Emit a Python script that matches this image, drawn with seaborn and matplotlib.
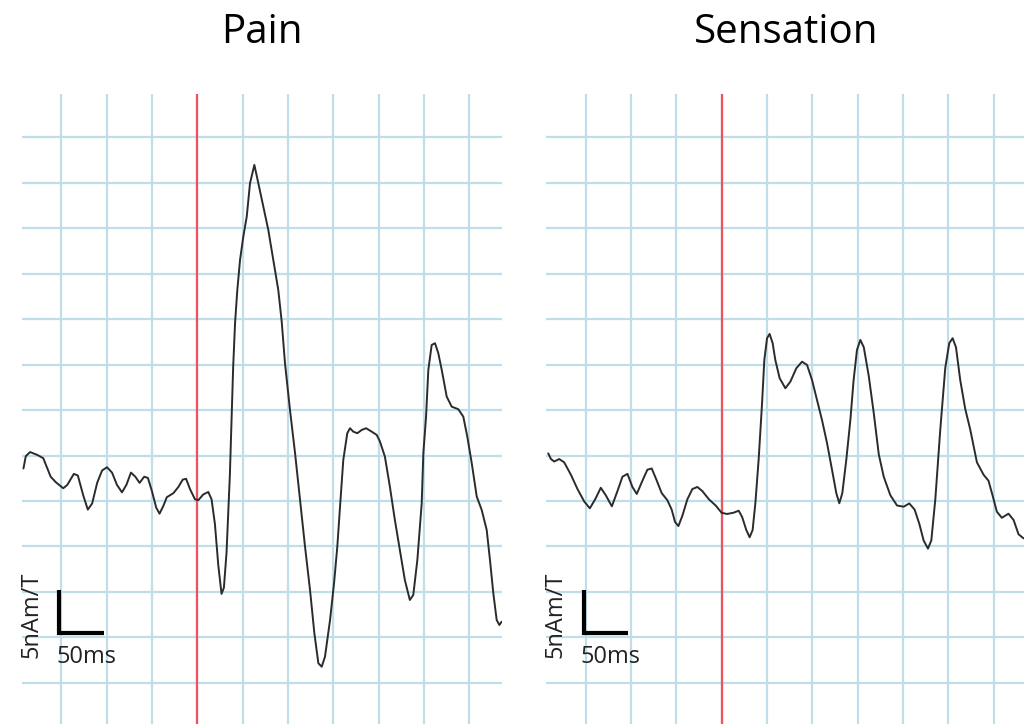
import numpy as np
import pandas as pd
import matplotlib
matplotlib.use("Agg")
import matplotlib.pyplot as plt
import seaborn as sns

# Panel titles
panel_titles = ["Pain", "Sensation"]

# Source waveform, Pain condition (time in ms, amplitude in nAm/T)
pain_t = [-191.8, -189.2, -184.5, -176.4, -169.9, -165.4, -161.8, -156.3, -147.9, -143.5,
          -136.2, -131.8, -125.9, -120.8, -116.0, -110.5, -105.1, -99.6, -94.1, -88.6,
          -83.1, -78.3, -73.2, -68.4, -63.7, -58.6, -54.5, -50.1, -45.4, -41.7,
          -37.3, -33.7, -26.4, -20.9, -16.1, -12.4, -8.1, -2.6, 1.1, 6.6,
          12.1, 15.7, 19.4, 23.1, 26.7, 29.3, 32.2, 35.9, 39.5, 41.6,
          44.1, 47.1, 50.7, 54.5, 58.1, 62.9, 67.3, 72.8, 78.3, 83.8,
          89.3, 93.1, 96.7, 102.2, 107.8, 113.3, 118.8, 124.3, 129.1, 133.5,
          137.2, 140.8, 146.4, 150.8, 154.4, 157.4, 161.0, 165.4, 168.4, 172.1,
          176.5, 181.3, 186.1, 192.4, 197.9, 201.5, 206.9, 212.4, 217.9, 223.4,
          228.9, 234.4, 238.2, 242.7, 247.5, 249.3, 252.3, 254.8, 258.5, 262.2,
          265.8, 269.6, 275.1, 280.6, 287.9, 293.4, 297.8, 302.7, 308.2, 313.7,
          319.2, 322.8, 326.5, 330.2, 333.1, 335.7]
pain_v = [3.57, 4.93, 5.38, 5.06, 4.70, 3.57, 2.67, 2.08, 1.40, 1.76,
          2.98, 2.80, 0.63, -0.95, -0.27, 1.99, 3.35, 3.71, 3.12, 1.76,
          0.95, 1.76, 3.12, 2.67, 1.99, 2.67, 2.53, 1.09, -0.72, -1.40,
          -0.50, 0.41, 0.86, 1.54, 2.35, 2.44, 1.31, 0.18, 0.09, 0.72,
          0.99, 0.18, -2.53, -7.05, -10.22, -9.54, -5.70, 2.89, 14.65, 19.55,
          23.20, 26.50, 29.07, 31.27, 34.94, 36.96, 34.94, 32.37, 29.80, 26.50,
          23.20, 19.70, 15.14, 10.01, 5.25, 0.11, -5.03, -9.79, -14.55, -17.85,
          -18.23, -17.13, -13.09, -9.05, -5.03, -0.63, 4.51, 7.45, 8.00, 7.62,
          7.45, 7.81, 8.00, 7.62, 7.26, 6.52, 4.87, 1.57, -2.09, -5.39,
          -8.69, -10.89, -10.34, -6.49, -0.25, 5.25, 9.27, 14.41, 17.16, 17.35,
          16.25, 14.41, 11.47, 10.37, 10.09, 9.27, 7.07, 4.15, 0.48, -0.99,
          -3.19, -6.49, -10.15, -13.09, -13.64, -13.28]

# Source waveform, Sensation condition
sens_t = [-191.3, -188.3, -184.7, -179.2, -173.7, -166.3, -159.0, -151.6, -145.4, -139.5,
          -133.3, -127.8, -121.1, -114.9, -109.4, -103.9, -98.4, -93.6, -87.4, -81.9,
          -77.1, -72.0, -66.1, -59.9, -55.1, -51.4, -47.7, -43.3, -37.8, -32.3,
          -26.8, -21.3, -14.0, -6.6, 0.0, 6.0, 13.2, 18.8, 22.5, 27.2,
          30.9, 34.2, 37.2, 40.8, 44.6, 47.1, 50.1, 52.9, 56.3, 59.2,
          64.0, 70.3, 75.8, 82.4, 88.7, 94.2, 99.7, 105.2, 110.7, 116.3,
          121.8, 126.5, 129.8, 133.1, 137.5, 142.0, 145.6, 149.3, 153.0, 156.8,
          162.3, 167.8, 173.3, 178.8, 186.1, 193.5, 200.8, 207.0, 212.9, 218.1,
          222.8, 227.6, 231.3, 235.7, 241.2, 246.7, 251.1, 254.8, 258.5, 263.2,
          268.7, 274.2, 281.6, 288.9, 294.4, 298.8, 303.6, 309.1, 316.4, 322.0,
          327.5, 333.0]
sens_v = [5.24, 4.61, 4.34, 4.61, 4.25, 2.89, 1.31, -0.05, -0.81, 0.18,
          1.45, 0.63, -0.59, 1.09, 2.67, 2.98, 1.54, 0.77, 2.22, 3.44,
          3.57, 2.35, 0.86, 0.09, -0.95, -2.31, -2.76, -1.63, 0.18, 1.31,
          1.54, 1.09, 0.18, -0.50, -1.30, -1.43, -1.29, -1.07, -1.73, -3.19,
          -3.99, -3.19, -0.25, 4.51, 10.75, 15.51, 17.90, 18.37, 17.35, 15.51,
          13.50, 12.40, 13.12, 14.60, 15.32, 14.96, 13.31, 11.11, 8.91, 6.35,
          3.41, 0.85, -0.25, 0.85, 4.51, 8.91, 13.31, 16.61, 17.71, 16.91,
          13.74, 9.67, 5.15, 2.67, 0.63, -0.50, -0.63, -0.27, -0.95, -2.53,
          -4.34, -5.24, -4.34, 0.18, 7.87, 14.65, 17.36, 17.90, 16.91, 13.29,
          10.13, 7.87, 4.25, 2.89, 2.22, 0.63, -1.18, -1.85, -1.40, -2.08,
          -3.66, -4.11]

# Grid: one cell = 50 ms by 5 nAm/T
time_ticks = list(range(-150, 301, 50))
amp_ticks = list(range(-20, 41, 5))

sns.set_theme(style="white")
plt.rcParams["font.family"] = ["Open Sans", "DejaVu Sans"]

GRID_COLOR = "#bfdeea"
ONSET_COLOR = "#f0525a"
TRACE_COLOR = "#2b2b2b"

fig = plt.figure(figsize=(10.24, 7.24), dpi=100)

W, H = 1024.0, 724.0
ax_w = 480.3 / W
ax_h = (724 - 94) / H
lefts = [22 / W, 546.3 / W]

xlim = (-193.4, 336.4)
ylim = (-24.53, 44.76)

frames = [
    pd.DataFrame({"time": pain_t, "amp": pain_v}),
    pd.DataFrame({"time": sens_t, "amp": sens_v}),
]
title_x = [261.5 / W, 786.5 / W]

for i, (left, df) in enumerate(zip(lefts, frames)):
    ax = fig.add_axes([left, 0.0, ax_w, ax_h])
    ax.set_xlim(*xlim)
    ax.set_ylim(*ylim)
    ax.set_xticks(time_ticks)
    ax.set_yticks(amp_ticks)
    ax.set_xticklabels([])
    ax.set_yticklabels([])
    ax.tick_params(length=0)
    ax.grid(True, color=GRID_COLOR, linewidth=1.6)
    ax.set_axisbelow(True)
    for s in ax.spines.values():
        s.set_visible(False)
    ax.patch.set_alpha(0)

    # stimulus onset
    ax.axvline(0, color=ONSET_COLOR, linewidth=1.6, zorder=2)

    sns.lineplot(data=df, x="time", y="amp", ax=ax, color=TRACE_COLOR,
                 linewidth=1.4, sort=False, estimator=None, zorder=3)
    ax.set_xlabel("")
    ax.set_ylabel("")

    # scale bar: 50 ms x 5 nAm/T
    ax.plot([-152.2, -152.2, -102.9], [-9.8, -14.57, -14.57], color="black",
            linewidth=3.0, solid_joinstyle="miter", solid_capstyle="butt", zorder=4)
    ax.text(-155.8, -17.8, "50ms", fontsize=17, color="#222222",
            ha="left", va="baseline")
    ax.text(-176.5, -17.27, "5nAm/T", fontsize=17, color="#222222",
            rotation=90, rotation_mode="anchor", ha="left", va="baseline")

    fig.text(title_x[i], (H - 43) / H, panel_titles[i], fontsize=29,
             color="black", ha="center", va="baseline")

fig.savefig("out.png", dpi=100)
